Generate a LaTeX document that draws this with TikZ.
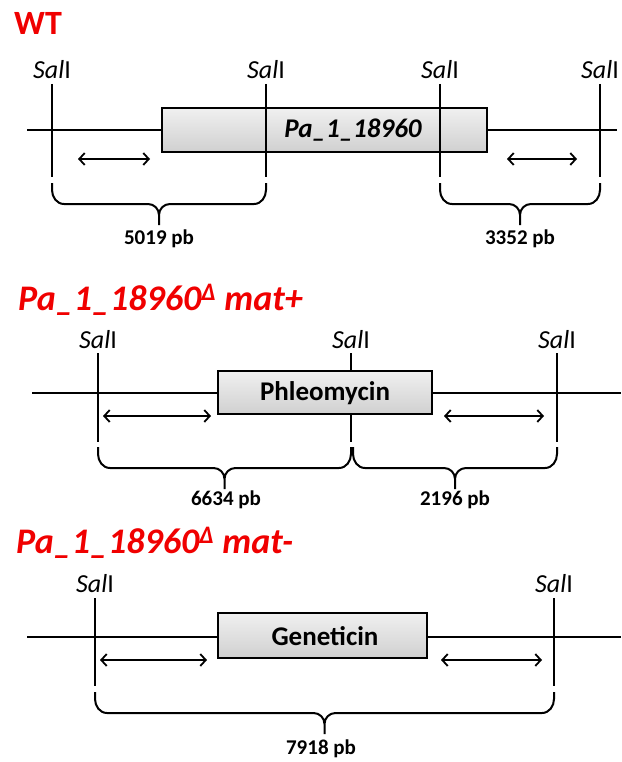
\documentclass[tikz,border=0pt]{standalone}
\usepackage{fontspec}
\setmainfont{Carlito}
\usetikzlibrary{arrows.meta,calc}
\definecolor{titlered}{RGB}{240,0,0}
\definecolor{boxtop}{RGB}{240,240,240}
\definecolor{boxbot}{RGB}{208,208,208}
\newcommand{\salname}{{\itshape Sal}I}
% curly brace hanging below two coordinates, tip in the middle
\newcommand{\gbrace}[2]{%
  \draw[brcline] let \p1=(#1), \p2=(#2), \p3=($(#1)!0.5!(#2)$) in
    (\x1,\y1) -- (\x1,\y1-7pt) to[out=-90,in=180] (\x1+12pt,\y1-21pt)
      -- (\x3-11pt,\y1-21pt) to[out=0,in=90] (\x3,\y1-32pt) -- (\x3,\y1-42pt)
    (\x2,\y2) -- (\x2,\y2-7pt) to[out=-90,in=0] (\x2-12pt,\y2-21pt)
      -- (\x3+11pt,\y2-21pt) to[out=180,in=90] (\x3,\y2-32pt);}
\begin{document}
\begin{tikzpicture}[x=1pt,y=-1pt,
  dna/.style={line width=2pt},
  site/.style={line width=2pt},
  dbl/.style={line width=1.8pt,{Straight Barb[length=5.5pt,width=12pt]}-{Straight Barb[length=5.5pt,width=12pt]}},
  brcline/.style={line width=2pt,line join=round},
  genebox/.style={draw,line width=2.4pt,top color=boxtop,bottom color=boxbot,inner sep=0pt},
  genetext/.style={font=\fontsize{27}{31}\selectfont\bfseries},
  sallab/.style={anchor=base,inner sep=0pt,font=\fontsize{26}{29}\selectfont},
  size/.style={font=\fontsize{21}{25}\selectfont\bfseries},
  title/.style={anchor=base west,inner sep=0pt,text=titlered,font=\fontsize{36}{42}\selectfont\bfseries}
]
\useasboundingbox[fill=white] (0,0) rectangle (621,762);

% ---------------- WT ----------------
\node[title,font=\fontsize{34}{40}\selectfont\bfseries] (t1) at (14,35) {WT};
\coordinate (d1l) at (27,130); \coordinate (d1r) at (617,130);
\draw[dna] (d1l) -- (d1r);
\node[genebox,minimum width=325pt,minimum height=44pt] (g1) at (324.5,130) {};
\node[genetext] (g1t) at (353,130) {\itshape Pa\_1\_18960};
\foreach \i/\x in {1/52,2/266,3/440,4/600}{
  \node[sallab] (s1l\i) at (\x,79) {\salname};
  \coordinate (s1t\i) at (\x,84);
  \coordinate (s1b\i) at (\x,177);
  \draw[site] (s1t\i) -- (s1b\i);
}
\coordinate (a1l) at (78,159); \coordinate (a1r) at (150,159);
\coordinate (a2l) at (507,159); \coordinate (a2r) at (577,159);
\draw[dbl] (a1l) -- (a1r);
\draw[dbl] (a2l) -- (a2r);
\coordinate (b1l) at (52,183); \coordinate (b1r) at (266,183);
\coordinate (b2l) at (440,183); \coordinate (b2r) at (600,183);
\gbrace{b1l}{b1r}
\gbrace{b2l}{b2r}
\node[size] (n1) at (159,239) {5019 pb};
\node[size] (n2) at (520,239) {3352 pb};

% ---------------- mat+ ----------------
\node[title] (t2) at (18,310) {\itshape Pa\_1\_18960\textsuperscript{Δ} mat+};
\coordinate (d2l) at (32,393); \coordinate (d2r) at (621,393);
\draw[dna] (d2l) -- (d2r);
\foreach \i/\x in {1/98,2/351,3/557}{
  \node[sallab] (s2l\i) at (\x,348) {\salname};
  \coordinate (s2t\i) at (\x,353);
  \coordinate (s2b\i) at (\x,442);
  \draw[site] (s2t\i) -- (s2b\i);
}
\node[genebox,minimum width=214pt,minimum height=43pt] (g2) at (325,392.5) {};
\node[genetext] (g2t) at (325,393) {Phleomycin};
\coordinate (a3l) at (103,416); \coordinate (a3r) at (211,416);
\coordinate (a4l) at (444,416); \coordinate (a4r) at (544,416);
\draw[dbl] (a3l) -- (a3r);
\draw[dbl] (a4l) -- (a4r);
\coordinate (b3l) at (98,447); \coordinate (b3r) at (351,447);
\coordinate (b4l) at (353,447); \coordinate (b4r) at (557,447);
\gbrace{b3l}{b3r}
\gbrace{b4l}{b4r}
\node[size] (n3) at (226,500) {6634 pb};
\node[size] (n4) at (455,500) {2196 pb};

% ---------------- mat- ----------------
\node[title] (t3) at (16,553) {\itshape Pa\_1\_18960\textsuperscript{Δ} mat-};
\coordinate (d3l) at (27,637); \coordinate (d3r) at (621,637);
\draw[dna] (d3l) -- (d3r);
\foreach \i/\x in {1/95,2/554}{
  \node[sallab] (s3l\i) at (\x,592) {\salname};
  \coordinate (s3t\i) at (\x,598);
  \coordinate (s3b\i) at (\x,686);
  \draw[site] (s3t\i) -- (s3b\i);
}
\node[genebox,minimum width=209pt,minimum height=45pt] (g3) at (322.5,635.5) {};
\node[genetext] (g3t) at (325,636) {Geneticin};
\coordinate (a5l) at (100,660); \coordinate (a5r) at (207,660);
\coordinate (a6l) at (441,660); \coordinate (a6r) at (542,660);
\draw[dbl] (a5l) -- (a5r);
\draw[dbl] (a6l) -- (a6r);
\coordinate (b5l) at (95,692); \coordinate (b5r) at (554,692);
\gbrace{b5l}{b5r}
\node[size] (n5) at (321,749) {7918 pb};
\end{tikzpicture}
\end{document}
